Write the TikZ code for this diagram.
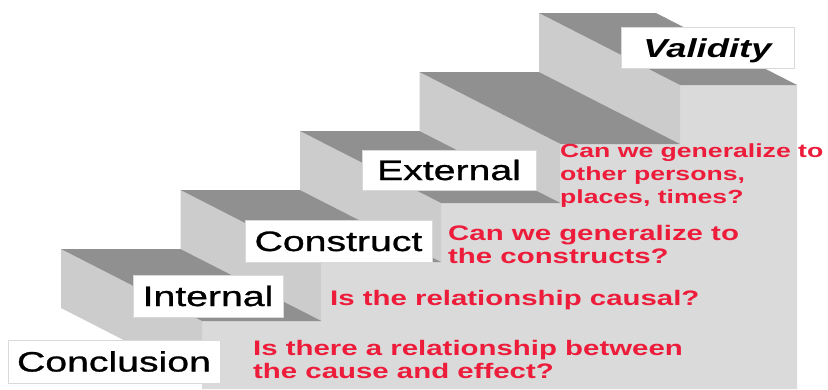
\documentclass[tikz,border=0pt]{standalone}
\usepackage{fontspec}
\newfontfamily\widesans[FakeStretch=1.4]{Liberation Sans}
\newfontfamily\labelsans[FakeStretch=1.4, FakeBold=1]{Liberation Sans}
\definecolor{tread}{RGB}{144,144,144}
\definecolor{riser}{RGB}{204,204,204}
\definecolor{side}{RGB}{218,218,218}
\definecolor{askred}{RGB}{237,28,58}
\tikzset{
  stepbox/.style={draw=gray!30, fill=white, inner sep=0pt, text height=20pt, text depth=0pt,
    font=\labelsans\fontsize{28}{30}\selectfont},
  asktext/.style={anchor=base west, inner sep=0pt, align=left, text=askred,
    font=\widesans\bfseries\fontsize{21}{23}\selectfont},
}
\begin{document}
\begin{tikzpicture}[x=1pt, y=-1pt]
    \useasboundingbox (0,0) rectangle (828,389);
    % side of the stairs
    \fill[side] (202,321) -- (321.5,321) -- (321.5,262) -- (441,262) -- (441,203) -- (560.5,203)
        -- (560.5,144) -- (680,144) -- (680,85) -- (797,85) -- (797,389) -- (202,389) -- cycle;
    % risers
    \fill[riser] (539,13) -- (680,85) -- (680,144) -- (539,72) -- cycle;
    \fill[riser] (419.5,72) -- (560.5,144) -- (560.5,203) -- (419.5,131) -- cycle;
    \fill[riser] (300,131) -- (441,203) -- (441,262) -- (300,190) -- cycle;
    \fill[riser] (180.5,190) -- (321.5,262) -- (321.5,321) -- (180.5,249) -- cycle;
    \fill[riser] (61,249) -- (202,321) -- (202,380) -- (61,308) -- cycle;
    % treads
    \fill[tread] (539,13) -- (656,13) -- (797,85) -- (680,85) -- cycle;
    \fill[tread] (419.5,72) -- (539,72) -- (680,144) -- (560.5,144) -- cycle;
    \fill[tread] (300,131) -- (419.5,131) -- (560.5,203) -- (441,203) -- cycle;
    \fill[tread] (180.5,190) -- (300,190) -- (441,262) -- (321.5,262) -- cycle;
    \fill[tread] (61,249) -- (180.5,249) -- (321.5,321) -- (202,321) -- cycle;
    % step labels
    \node[stepbox, minimum width=173pt, minimum height=41pt,
        font=\widesans\bfseries\itshape\fontsize{26}{30}\selectfont] (validity) at (707.5,47.5) {Validity};
    \node[stepbox, minimum width=174pt, minimum height=40pt] (external) at (449,170) {External};
    \node[stepbox, minimum width=187pt, minimum height=42pt] (construct) at (338.5,241) {Construct};
    \node[stepbox, minimum width=150pt, minimum height=42pt] (internal) at (208,296) {Internal};
    \node[stepbox, minimum width=212pt, minimum height=43pt] (conclusion) at (114,361.5) {Conclusion};
    % questions (base = last line)
    \node[asktext, font=\widesans\bfseries\fontsize{19}{23}\selectfont] (askexternal) at (560,203)
        {Can we generalize to\\other persons,\\places, times?};
    \node[asktext] (askconstruct) at (448,263) {Can we generalize to\\the constructs?};
    \node[asktext] (askinternal) at (330,305) {Is the relationship causal?};
    \node[asktext] (askconclusion) at (253,378) {Is there a relationship between\\the cause and effect?};
\end{tikzpicture}
\end{document}
